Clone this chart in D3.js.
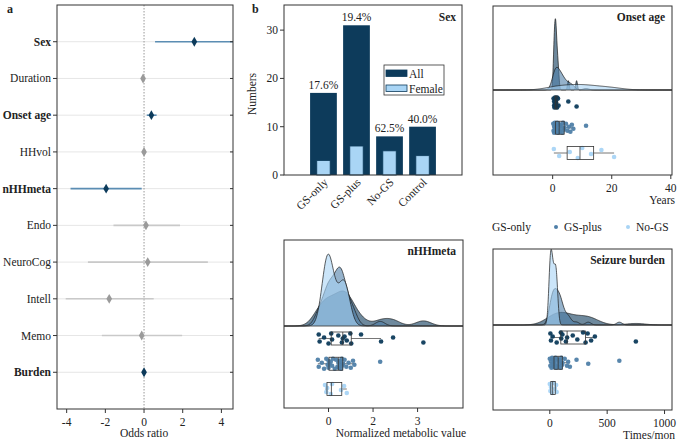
<!DOCTYPE html>
<html>
<head>
<meta charset="utf-8">
<script src="https://cdn.jsdelivr.net/npm/d3@7"></script>
<style>
body { margin: 0; background: #fff; }
text { font-family: "Liberation Serif", "Times New Roman", serif; fill: #222; }
</style>
</head>
<body>
<svg id="fig" width="678" height="441"></svg>
<script>
// ---- panel a: odds ratios ----
const orVars = ["Sex", "Duration", "Onset age", "HHvol", "nHHmeta", "Endo", "NeuroCog", "Intell", "Memo", "Burden"];
const orEst  = [2.6, -0.05, 0.38, 0.0, -1.96, 0.1, 0.19, -1.8, -0.12, 0.0];
const orLo   = [0.57, -0.08, 0.14, -0.03, -3.8, -1.58, -2.9, -4.05, -2.18, -0.03];
const orHi   = [5.5, -0.02, 0.65, 0.03, -0.12, 1.86, 3.3, 0.5, 1.97, 0.03];
const orSig  = [true, false, true, false, true, false, false, false, false, true];
const orTicks = [-4, -2, 0, 2, 4];

// ---- panel b: sex counts ----
const groups  = ["GS-only", "GS-plus", "No-GS", "Control"];
const nAll    = [17, 31, 8, 10];
const nFemale = [3, 6, 5, 4];
const barTicks = [0, 10, 20, 30];

// ---- raincloud groups ----
const rainGroups = ["GS-only", "GS-plus", "No-GS"];
const rainColors = ["#0d3b5b", "#4f7fa8", "#a8d4f5"];

// onset age (years)
const onsetGSonly = [0.3, 0.5, 0.5, 0.6, 0.8, 0.8, 1, 1, 1, 1.2, 1.2, 1.5, 1.5, 1.8, 2, 5.3, 8.1];
const onsetGSplus = [0.2, 0.3, 0.5, 0.5, 0.7, 0.8, 1, 1, 1, 1.2, 1.5, 1.5, 1.8, 2, 2, 2.2, 2.5, 2.5, 3, 3, 3.2, 3.5, 3.8, 4, 4.5, 5, 5.5, 6, 6.5, 7, 11.3];
const onsetNoGS   = [0.4, 2.2, 5.8, 8.5, 10, 13, 16.5, 20.8];
const onsetTicks  = [0, 20, 40];

// nHHmeta (normalized metabolic value, axis units)
const metaGSonly = [-0.22, -0.2, -0.1, 0.0, 0.06, 0.08, 0.22, 0.3, 0.32, 0.36, 0.41, 0.49, 0.51, 0.73, 1.18, 1.45, 2.13];
const metaGSplus = [-0.24, -0.22, -0.15, -0.1, -0.05, -0.02, 0.0, 0.0, 0.02, 0.05, 0.08, 0.1, 0.14, 0.17, 0.2, 0.22, 0.23, 0.25, 0.26, 0.27, 0.28, 0.3, 0.31, 0.33, 0.36, 0.4, 0.45, 0.5, 0.55, 0.58, 1.16];
const metaNoGS   = [-0.08, -0.05, -0.03, 0.05, 0.08, 0.28, 0.35, 0.41];
const metaTicks  = [0, 1, 2];
const metaTickLabels = ["0", "2", "3"];

// seizure burden (times/month)
const burdenGSonly = [5, 10, 25, 60, 96, 100, 110, 140, 151, 200, 240, 290, 312, 330, 360, 393, 750];
const burdenGSplus = [0, 5, 10, 15, 20, 25, 30, 35, 38, 40, 45, 50, 55, 60, 65, 73, 75, 80, 85, 90, 95, 100, 108, 110, 130, 150, 160, 175, 233, 335, 606];
const burdenNoGS   = [0, 5, 10, 20, 30, 45, 55, 60];
const burdenTicks  = [0, 500, 1000];

// fixed vertical jitter pattern for the rain dots (px)
const jitter = [-4, 3, -1, 5, -5, 1, -3, 4, 0, -2, 2, -5, 5, -4, 3, -1, 4, -3, 1, -2, 5, -5, 2, 0, -4, 3, -1, 4, -3, 1, -2];

const svg = d3.select("#fig");
const FS = "11.5px";
const frameCol = "#333";

function frame(g, x0, x1, y0, y1) {
  g.append("rect").attr("x", x0).attr("y", y0).attr("width", x1 - x0).attr("height", y1 - y0)
    .attr("fill", "none").attr("stroke", frameCol).attr("stroke-width", 1);
}

function bottomAxis(g, x, ticks, labels, y1) {
  ticks.forEach((t, i) => {
    g.append("line").attr("x1", x(t)).attr("x2", x(t)).attr("y1", y1).attr("y2", y1 + 4)
      .attr("stroke", frameCol);
    g.append("text").attr("x", x(t)).attr("y", y1 + 17).attr("text-anchor", "middle")
      .style("font-size", FS).text(labels ? labels[i] : t);
  });
}

// ================= panel a =================
{
  const g = svg.append("g");
  const x0 = 57, x1 = 233, y0 = 5, y1 = 409;
  const x = d3.scaleLinear().domain([-4.5, 4.6]).range([x0, x1]);
  const y = d3.scalePoint().domain(orVars).range([y0, y1]).padding(1);

  g.append("defs").append("clipPath").attr("id", "clipA")
    .append("rect").attr("x", x0).attr("y", y0).attr("width", x1 - x0).attr("height", y1 - y0);

  // gridlines
  orVars.forEach(v => {
    g.append("line").attr("x1", x0).attr("x2", x1).attr("y1", y(v)).attr("y2", y(v))
      .attr("stroke", "#e6e6e6").attr("stroke-width", 1);
  });
  // zero line
  g.append("line").attr("x1", x(0)).attr("x2", x(0)).attr("y1", y0).attr("y2", y1)
    .attr("stroke", "#999").attr("stroke-width", 1).attr("stroke-dasharray", "1.5,1.5");

  const marks = g.append("g").attr("clip-path", "url(#clipA)");
  orVars.forEach((v, i) => {
    marks.append("line").attr("x1", x(orLo[i])).attr("x2", x(orHi[i])).attr("y1", y(v)).attr("y2", y(v))
      .attr("stroke", orSig[i] ? "#5b8db3" : "#c9c9c9").attr("stroke-width", 1.6);
    marks.append("path").attr("d", d3.symbol(d3.symbolDiamond, 28)())
      .attr("transform", `translate(${x(orEst[i])},${y(v)})`)
      .attr("fill", orSig[i] ? "#0d3b5b" : "#9a9a9a");
  });

  frame(g, x0, x1, y0, y1);
  orVars.forEach((v, i) => {
    g.append("line").attr("x1", x0 - 4).attr("x2", x0).attr("y1", y(v)).attr("y2", y(v)).attr("stroke", frameCol);
    g.append("line").attr("x1", x1 - 3).attr("x2", x1).attr("y1", y(v)).attr("y2", y(v)).attr("stroke", frameCol);
    g.append("text").attr("x", x0 - 6).attr("y", y(v)).attr("dy", "0.35em").attr("text-anchor", "end")
      .style("font-size", FS).style("font-weight", orSig[i] ? "bold" : "normal").text(v);
  });
  bottomAxis(g, x, orTicks, null, y1);
  g.append("text").attr("x", x(0)).attr("y", 437).attr("text-anchor", "middle").style("font-size", FS).text("Odds ratio");
  g.append("text").attr("x", 7).attr("y", 13).style("font-size", "12px").style("font-weight", "bold").text("a");
}

// ================= panel b: bars =================
{
  const g = svg.append("g");
  const x0 = 284, x1 = 462, y0 = 5, y1 = 175;
  const x = d3.scaleBand().domain(groups).range([x0, x1]).paddingInner(0.19).paddingOuter(0.79);
  const y = d3.scaleLinear().domain([0, 35.2]).range([y1, y0]);

  groups.forEach((grp, i) => {
    g.append("rect").attr("x", x(grp)).attr("y", y(nAll[i])).attr("width", x.bandwidth())
      .attr("height", y(0) - y(nAll[i])).attr("fill", "#0d3b5b");
    const fw = x.bandwidth() / 2;
    g.append("rect").attr("x", x(grp) + fw / 2).attr("y", y(nFemale[i])).attr("width", fw)
      .attr("height", y(0) - y(nFemale[i])).attr("fill", "#a9d5f5").attr("stroke", "#0d3b5b").attr("stroke-width", 0.8);
    g.append("text").attr("x", x(grp) + x.bandwidth() / 2).attr("y", y(nAll[i]) - 4).attr("text-anchor", "middle")
      .style("font-size", FS).text((100 * nFemale[i] / nAll[i]).toFixed(1) + "%");
    g.append("text").attr("text-anchor", "end").style("font-size", FS)
      .attr("transform", `translate(${x(grp) + x.bandwidth() / 2 + 5},${y1 + 8}) rotate(-45)`)
      .text(grp);
  });

  frame(g, x0, x1, y0, y1);
  barTicks.forEach(t => {
    g.append("line").attr("x1", x0 - 4).attr("x2", x0).attr("y1", y(t)).attr("y2", y(t)).attr("stroke", frameCol);
    g.append("text").attr("x", x0 - 6).attr("y", y(t)).attr("dy", "0.35em").attr("text-anchor", "end")
      .style("font-size", FS).text(t);
  });
  g.append("text").attr("transform", "translate(256,94) rotate(-90)").attr("text-anchor", "middle")
    .style("font-size", FS).text("Numbers");
  g.append("text").attr("x", x1 - 6).attr("y", 21).attr("text-anchor", "end")
    .style("font-size", FS).style("font-weight", "bold").text("Sex");
  g.append("text").attr("x", 252).attr("y", 13).style("font-size", "12px").style("font-weight", "bold").text("b");

  // legend
  g.append("rect").attr("x", 384).attr("y", 65).attr("width", 60).attr("height", 30)
    .attr("fill", "#fff").attr("stroke", frameCol).attr("stroke-width", 0.8);
  [["All", "#0d3b5b"], ["Female", "#a9d5f5"]].forEach((d, i) => {
    g.append("rect").attr("x", 386).attr("y", 70 + i * 15).attr("width", 21).attr("height", 6.5)
      .attr("fill", d[1]).attr("stroke", "#0d3b5b").attr("stroke-width", 0.8);
    g.append("text").attr("x", 409).attr("y", 77.5 + i * 15).style("font-size", FS).text(d[0]);
  });
}

// ================= rainclouds =================
function kde(values, grid) {
  const n = values.length;
  const sd = d3.deviation(values);
  const sorted = values.slice().sort(d3.ascending);
  const iqr = d3.quantileSorted(sorted, 0.75) - d3.quantileSorted(sorted, 0.25);
  const bw = 0.9 * Math.min(sd, iqr / 1.34) * Math.pow(n, -0.2);
  return grid.map(g => [g, d3.mean(values, v => Math.exp(-0.5 * ((g - v) / bw) ** 2)) / (bw * Math.sqrt(2 * Math.PI))]);
}

function raincloud(cfg) {
  const { id, x0, x1, y0, y1, mid, domain, series, ticks, tickLabels, title, xlabel, peakPx } = cfg;
  const g = svg.append("g");
  const x = d3.scaleLinear().domain(domain).range([x0, x1]);
  const rows = d3.scalePoint().domain(rainGroups).range([mid + 12.5, mid + 63]);
  g.append("defs").append("clipPath").attr("id", id)
    .append("rect").attr("x", x0).attr("y", y0).attr("width", x1 - x0).attr("height", y1 - y0);
  const inner = g.append("g").attr("clip-path", `url(#${id})`);

  // densities
  const grid = d3.range(0, 301).map(i => domain[0] + (domain[1] - domain[0]) * i / 300);
  const dens = series.map(s => kde(s, grid));
  const peak = d3.max(dens, d => d3.max(d, p => p[1]));
  const yd = d3.scaleLinear().domain([0, peak]).range([mid, mid - peakPx]);
  const area = d3.area().x(p => x(p[0])).y0(mid).y1(p => yd(p[1])).curve(d3.curveBasis);
  const line = d3.line().x(p => x(p[0])).y(p => yd(p[1])).curve(d3.curveBasis);
  dens.forEach((d, i) => {
    inner.append("path").attr("d", area(d)).attr("fill", rainColors[i]).attr("fill-opacity", 0.6);
    inner.append("path").attr("d", line(d)).attr("fill", "none").attr("stroke", "#1a1a1a").attr("stroke-width", 0.7);
  });
  inner.append("line").attr("x1", x0).attr("x2", x1).attr("y1", mid).attr("y2", mid)
    .attr("stroke", "#444").attr("stroke-width", 0.9);

  // rain + boxes
  series.forEach((s, i) => {
    const cy = rows(rainGroups[i]);
    const sorted = s.slice().sort(d3.ascending);
    const q1 = d3.quantileSorted(sorted, 0.25), q2 = d3.quantileSorted(sorted, 0.5), q3 = d3.quantileSorted(sorted, 0.75);
    const iqr = q3 - q1;
    const lo = d3.min(sorted.filter(v => v >= q1 - 1.5 * iqr));
    const hi = d3.max(sorted.filter(v => v <= q3 + 1.5 * iqr));
    inner.append("line").attr("x1", x(lo)).attr("x2", x(q1)).attr("y1", cy).attr("y2", cy).attr("stroke", "#777");
    inner.append("line").attr("x1", x(q3)).attr("x2", x(hi)).attr("y1", cy).attr("y2", cy).attr("stroke", "#777");
    s.forEach((v, j) => {
      inner.append("circle").attr("cx", x(v)).attr("cy", cy + jitter[j % jitter.length])
        .attr("r", 2.3).attr("fill", rainColors[i]).attr("fill-opacity", 0.95);
    });
    inner.append("rect").attr("x", x(q1)).attr("y", cy - 6.5).attr("width", x(q3) - x(q1)).attr("height", 13)
      .attr("fill", "none").attr("stroke", "#333").attr("stroke-width", 0.8);
    inner.append("line").attr("x1", x(q2)).attr("x2", x(q2)).attr("y1", cy - 6.5).attr("y2", cy + 6.5)
      .attr("stroke", "#333").attr("stroke-width", 0.8);
  });

  frame(g, x0, x1, y0, y1);
  bottomAxis(g, x, ticks, tickLabels, y1);
  g.append("text").attr("x", x1 + 3).attr("y", y1 + 29).attr("text-anchor", "end").style("font-size", FS).text(xlabel);
  g.append("text").attr("x", x1 - 7).attr("y", y0 + 15).attr("text-anchor", "end")
    .style("font-size", FS).style("font-weight", "bold").text(title);
}

raincloud({ id: "clipOnset", x0: 493, x1: 672, y0: 6, y1: 175, mid: 90, domain: [-20.2, 40.4],
  series: [onsetGSonly, onsetGSplus, onsetNoGS], ticks: onsetTicks, tickLabels: null,
  title: "Onset age", xlabel: "Years", peakPx: 72 });

raincloud({ id: "clipMeta", x0: 284, x1: 463, y0: 240, y1: 408, mid: 326, domain: [-1.0, 3.02],
  series: [metaGSonly, metaGSplus, metaNoGS], ticks: metaTicks, tickLabels: metaTickLabels,
  title: "nHHmeta", xlabel: "Normalized metabolic value", peakPx: 72 });

raincloud({ id: "clipBurden", x0: 493, x1: 672, y0: 249, y1: 410, mid: 325, domain: [-495, 1065],
  series: [burdenGSonly, burdenGSplus, burdenNoGS], ticks: burdenTicks, tickLabels: null,
  title: "Seizure burden", xlabel: "Times/mon", peakPx: 76 });

// shared legend for the rainclouds
{
  const g = svg.append("g");
  const items = [{ name: "GS-only", x: 492, dot: false }, { name: "GS-plus", x: 564, dot: true }, { name: "No-GS", x: 636, dot: true }];
  items.forEach((d, i) => {
    if (d.dot) g.append("circle").attr("cx", d.x - 8).attr("cy", 227).attr("r", 2).attr("fill", rainColors[i]);
    g.append("text").attr("x", d.x).attr("y", 231).style("font-size", FS).text(d.name);
  });
}
</script>
</body>
</html>
